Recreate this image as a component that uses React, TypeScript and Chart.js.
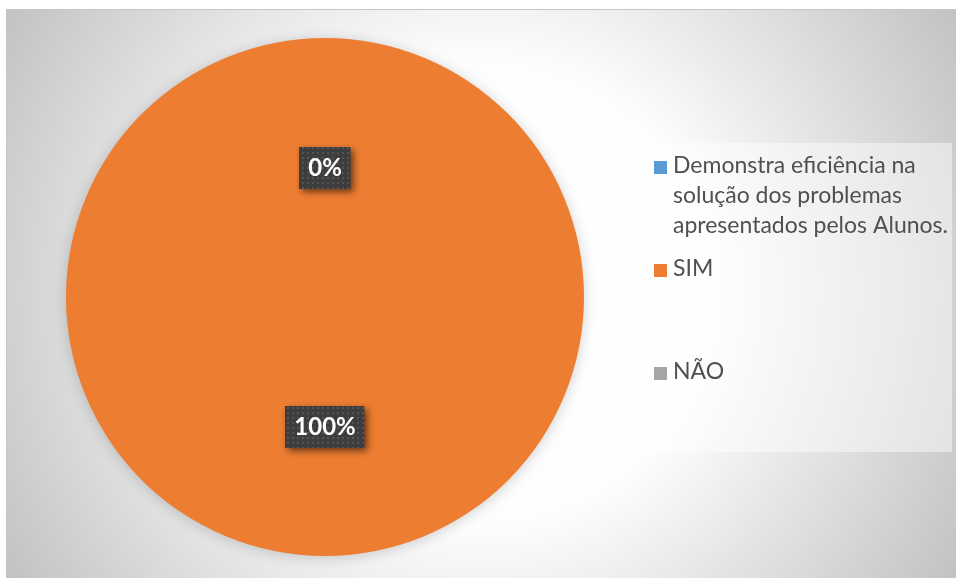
import React, { useEffect, useRef } from "react";
import { Chart, registerables } from "chart.js";

Chart.register(...registerables);

const W = 956;
const H = 578;

// ---- data ----
const categories: string[] = [
  "Demonstra eficiência na solução dos problemas apresentados pelos Alunos.",
  "SIM",
  "NÃO",
];
const values: (number | null)[] = [null, 100, 0];
const sliceColors: string[] = ["#5B9BD5", "#ED7D31", "#A5A5A5"];

const total = values.reduce((s: number, v) => s + (v ?? 0), 0);
const percentLabels: (string | null)[] = values.map((v) =>
  v === null ? null : Math.round((v / total) * 100) + "%"
);

// ---- styles ----
const LABEL_FONT = "bold 24px Lato, 'DejaVu Sans', sans-serif";
const LEGEND_FONT = "23px Lato, 'DejaVu Sans', sans-serif";
const LEGEND_COLOR = "#505050";

function makePattern(ctx: CanvasRenderingContext2D) {
  const c = document.createElement("canvas");
  c.width = 5;
  c.height = 5;
  const p = c.getContext("2d")!;
  p.fillStyle = "#3d3d3d";
  p.fillRect(0, 0, 5, 5);
  p.fillStyle = "#535353";
  p.fillRect(2, 2, 2, 2);
  return ctx.createPattern(c, "repeat");
}

const bgPlugin = {
  id: "bgPlugin",
  beforeDraw(chart: any) {
    const ctx: CanvasRenderingContext2D = chart.ctx;
    ctx.save();
    ctx.fillStyle = "#ffffff";
    ctx.fillRect(0, 0, W, H);
    const x0 = 6, y0 = 9, x1 = W, y1 = H;
    const cx = (x0 + x1) / 2, cy = (y0 + y1) / 2;
    const r = Math.hypot(cx - x0, cy - y0);
    const g = ctx.createRadialGradient(cx, cy, 0, cx, cy, r);
    g.addColorStop(0, "#ffffff");
    g.addColorStop(0.42, "#fdfdfd");
    g.addColorStop(1, "#c2c2c2");
    ctx.fillStyle = g;
    ctx.fillRect(x0, y0, x1 - x0, y1 - y0);
    ctx.strokeStyle = "#c6c6c6";
    ctx.lineWidth = 1;
    ctx.strokeRect(x0 + 0.5, y0 + 0.5, x1 - x0, y1 - y0);
    // legend panel
    ctx.fillStyle = "rgba(255,255,255,0.45)";
    ctx.fillRect(641, 143, 311, 309);
    ctx.restore();
  },
};

const shadowPlugin = {
  id: "shadowPlugin",
  beforeDatasetsDraw(chart: any) {
    const ctx: CanvasRenderingContext2D = chart.ctx;
    ctx.save();
    ctx.shadowColor = "rgba(0,0,0,0.18)";
    ctx.shadowBlur = 14;
    ctx.shadowOffsetX = 0;
    ctx.shadowOffsetY = 2;
  },
  afterDatasetsDraw(chart: any) {
    chart.ctx.restore();
  },
};

const labelPlugin = {
  id: "labelPlugin",
  afterDatasetsDraw(chart: any) {
    const ctx: CanvasRenderingContext2D = chart.ctx;
    const meta = chart.getDatasetMeta(0);
    const pattern = makePattern(ctx);
    meta.data.forEach((arc: any, i: number) => {
      const text = percentLabels[i];
      if (!text) return;
      const pt = arc.getCenterPoint();
      ctx.save();
      ctx.font = LABEL_FONT;
      const tw = ctx.measureText(text).width;
      const bw = tw + 18;
      const bh = 42;
      const bx = Math.round(pt.x - bw / 2);
      const by = Math.round(pt.y - bh / 2);
      ctx.shadowColor = "rgba(0,0,0,0.55)";
      ctx.shadowBlur = 7;
      ctx.shadowOffsetX = 3;
      ctx.shadowOffsetY = 3;
      ctx.fillStyle = pattern || "#3d3d3d";
      ctx.fillRect(bx, by, bw, bh);
      ctx.shadowColor = "transparent";
      ctx.fillStyle = "#ffffff";
      ctx.textAlign = "center";
      ctx.textBaseline = "middle";
      ctx.fillText(text, pt.x, pt.y + 1);
      ctx.restore();
    });
  },
};

function wrap(ctx: CanvasRenderingContext2D, text: string, maxW: number) {
  const words = text.split(" ");
  const lines: string[] = [];
  let cur = "";
  for (const w of words) {
    const t = cur ? cur + " " + w : w;
    if (ctx.measureText(t).width > maxW && cur) {
      lines.push(cur);
      cur = w;
    } else cur = t;
  }
  if (cur) lines.push(cur);
  return lines;
}

const legendPlugin = {
  id: "legendPlugin",
  afterDraw(chart: any) {
    const ctx: CanvasRenderingContext2D = chart.ctx;
    const entryY = [166, 269, 372];
    const lineH = 30;
    ctx.save();
    ctx.font = LEGEND_FONT;
    ctx.textBaseline = "middle";
    ctx.textAlign = "left";
    categories.forEach((cat, i) => {
      const y = entryY[i];
      ctx.fillStyle = sliceColors[i];
      ctx.fillRect(654, y - 5, 13, 13);
      ctx.fillStyle = LEGEND_COLOR;
      const lines = wrap(ctx, cat, 285);
      lines.forEach((ln, k) => ctx.fillText(ln, 673, y + k * lineH));
    });
    ctx.restore();
  },
};

export default function App() {
  const ref = useRef<HTMLCanvasElement | null>(null);
  useEffect(() => {
    if (!ref.current) return;
    const chart = new Chart(ref.current, {
      type: "pie",
      data: {
        labels: categories,
        datasets: [
          {
            data: values as any,
            backgroundColor: sliceColors,
            borderWidth: 0,
          },
        ],
      },
      options: {
        responsive: false,
        animation: false,
        layout: { padding: { left: 66, right: 372, top: 38, bottom: 22 } },
        plugins: {
          legend: { display: false },
          tooltip: { enabled: false },
        },
      },
      plugins: [bgPlugin, shadowPlugin, labelPlugin, legendPlugin],
    });
    return () => chart.destroy();
  }, []);
  return (
    <div style={{ position: "absolute", left: 0, top: 0, width: W, height: H }}>
      <canvas ref={ref} width={W} height={H} />
    </div>
  );
}
